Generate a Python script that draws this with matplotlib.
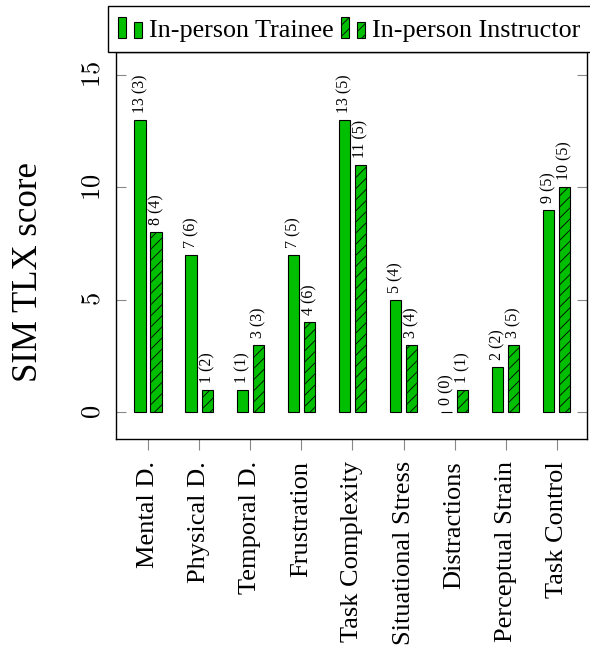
import matplotlib
matplotlib.use("Agg")
import matplotlib.pyplot as plt
import numpy as np
from matplotlib.legend_handler import HandlerBase
from matplotlib.patches import Rectangle

categories = ["Mental D.", "Physical D.", "Temporal D.", "Frustration",
              "Task Complexity", "Situational Stress", "Distractions",
              "Perceptual Strain", "Task Control"]
trainee = [13, 7, 1, 7, 13, 5, 0, 2, 9]
trainee_sd = [3, 6, 1, 5, 5, 4, 0, 2, 5]
instructor = [8, 1, 3, 4, 11, 3, 1, 3, 10]
instructor_sd = [4, 2, 3, 6, 5, 4, 1, 5, 5]
yticks = [0, 5, 10, 15]
series_names = ["In-person Trainee", "In-person Instructor"]

plt.rcParams["font.family"] = ["Liberation Serif", "DejaVu Serif"]
plt.rcParams["mathtext.fontset"] = "cm"
plt.rcParams["hatch.linewidth"] = 0.6

GREEN = "#00BF00"

fig = plt.figure(figsize=(5.9, 6.46), dpi=100)
ax = fig.add_axes([115.5 / 590, 1 - 439 / 646, (587 - 115.5) / 590, (439 - 52) / 646])

x = np.arange(len(categories))
off = 0.157
w = 0.22
b1 = ax.bar(x - off, trainee, w, color=GREEN, edgecolor="black", linewidth=0.8)
b2 = ax.bar(x + off, instructor, w, color=GREEN, edgecolor="black", linewidth=0.8,
            hatch="///")

for xi, v, s in zip(x - off, trainee, trainee_sd):
    ax.annotate(f"{v} ({s})", (xi, v), xytext=(0, 5), textcoords="offset points",
                rotation=90, ha="center", va="bottom", fontsize=11.5)
for xi, v, s in zip(x + off, instructor, instructor_sd):
    ax.annotate(f"{v} ({s})", (xi, v), xytext=(0, 5), textcoords="offset points",
                rotation=90, ha="center", va="bottom", fontsize=11.5)

ax.set_xlim(-0.636, 8.59)
ax.set_ylim(-1.2, 16.0)
ax.set_yticks(yticks)
ax.set_yticklabels([f"${t}$" for t in yticks], rotation=90, va="center", fontsize=19)
ax.set_xticks(x)
ax.set_xticklabels(categories, rotation=90, fontsize=19)

ax.tick_params(axis="y", direction="in", length=7, width=0.8, color="#888888",
               right=True, pad=8)
ax.tick_params(axis="x", direction="out", length=8, width=0.8, color="#888888", pad=8)
for sp in ax.spines.values():
    sp.set_linewidth(1.0)

ax.set_ylabel("SIM TLX score", fontsize=25)
ax.yaxis.set_label_coords(-0.15, 0.432)


class TwoBars(HandlerBase):
    def create_artists(self, legend, orig_handle, xdescent, ydescent, width, height,
                       fontsize, trans):
        bw = width * 0.34
        kw = dict(facecolor=orig_handle.get_facecolor(), edgecolor="black",
                  linewidth=0.8, hatch=orig_handle.get_hatch(), transform=trans)
        r1 = Rectangle((-xdescent, -ydescent), bw, height, **kw)
        r2 = Rectangle((-xdescent + width - bw, -ydescent), bw, height * 0.75, **kw)
        return [r1, r2]


leg = ax.legend([b1.patches[0], b2.patches[0]], series_names, ncol=2,
                loc="lower left", bbox_to_anchor=((108 - 115.5) / 471.5, 1.0),
                borderaxespad=0, fontsize=18.8, handlelength=0.9, handleheight=0.9,
                handletextpad=0.28, columnspacing=0.28, borderpad=0.4,
                fancybox=False, edgecolor="black", framealpha=1,
                handler_map={Rectangle: TwoBars()})
leg.get_frame().set_linewidth(1.0)

fig.savefig("out.png", dpi=100)
